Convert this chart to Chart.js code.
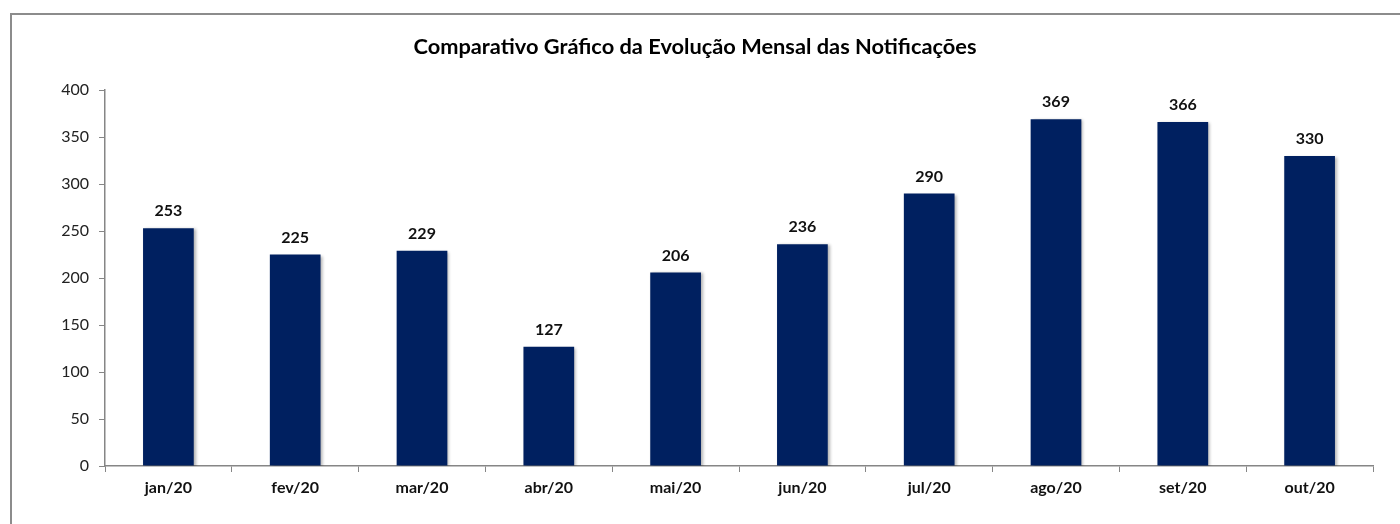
<!DOCTYPE html>
<html>
<head>
<meta charset="utf-8">
<script src="https://cdn.jsdelivr.net/npm/chart.js@4.4.1/dist/chart.umd.min.js"></script>
<style>
  html, body { margin: 0; padding: 0; background: #fff; }
  #wrap { position: relative; width: 1400px; height: 524px; overflow: hidden; }
  #frame { position: absolute; left: 10px; top: 13px; width: 1500px; height: 600px; border: 2px solid #8c8c8c; box-sizing: border-box; }
  canvas { position: absolute; left: 0; top: 0; }
</style>
</head>
<body>
<div id="wrap">
  <div id="frame"></div>
  <canvas id="chart" width="1400" height="524"></canvas>
</div>
<script>
//months shown on the x axis
const months = ["jan/20", "fev/20", "mar/20", "abr/20", "mai/20", "jun/20", "jul/20", "ago/20", "set/20", "out/20"];
//monthly notifications
const notificacoes = [253, 225, 229, 127, 206, 236, 290, 369, 366, 330];
//y axis ticks
const yTicks = [0, 50, 100, 150, 200, 250, 300, 350, 400];

const fontName = "Lato, 'Open Sans', sans-serif";

//draws the value over each bar (no datalabels plugin available)
const valueLabels = {
  id: "valueLabels",
  afterDatasetsDraw(chart) {
    const ctx = chart.ctx;
    const meta = chart.getDatasetMeta(0);
    ctx.save();
    ctx.font = "bold 16px " + fontName;
    ctx.fillStyle = "#111";
    ctx.textAlign = "center";
    ctx.textBaseline = "bottom";
    meta.data.forEach((bar, i) => {
      ctx.fillText(notificacoes[i], bar.x, bar.y - 9);
    });
    ctx.restore();
  }
};

//soft shadow on the bars
const barShadow = {
  id: "barShadow",
  beforeDatasetDraw(chart) {
    const ctx = chart.ctx;
    ctx.save();
    ctx.shadowColor = "rgba(0,0,0,0.3)";
    ctx.shadowBlur = 3;
    ctx.shadowOffsetX = 2;
    ctx.shadowOffsetY = 1;
  },
  afterDatasetDraw(chart) {
    chart.ctx.restore();
  }
};

new Chart(document.getElementById("chart"), {
  type: "bar",
  plugins: [valueLabels, barShadow],
  data: {
    labels: months,
    datasets: [{
      data: notificacoes,
      backgroundColor: "#002060",
      borderWidth: 0,
      categoryPercentage: 1,
      barPercentage: 0.4
    }]
  },
  options: {
    responsive: false,
    animation: false,
    layout: { padding: { left: 17, right: 27, top: 0, bottom: 0 } },
    plugins: {
      legend: { display: false },
      tooltip: { enabled: false },
      title: {
        display: true,
        text: "Comparativo Gráfico da Evolução Mensal das Notificações",
        color: "#000",
        font: { family: fontName, size: 21.8, weight: "bold", lineHeight: 1.2 },
        padding: { top: 34, bottom: 30 }
      }
    },
    scales: {
      x: {
        grid: { display: true, drawOnChartArea: false, drawTicks: true, tickLength: 6, color: "#868686", offset: true },
        border: { color: "#868686", width: 1.5 },
        ticks: { color: "#111", font: { family: fontName, size: 16, weight: "bold" }, padding: 6 },
        afterFit(scale) { scale.height = 58; }
      },
      y: {
        min: 0,
        max: 400,
        afterBuildTicks(scale) { scale.ticks = yTicks.map(v => ({ value: v })); },
        grid: { display: true, drawOnChartArea: false, drawTicks: true, tickLength: 6, color: "#868686" },
        border: { color: "#868686", width: 1.5 },
        ticks: { color: "#222", font: { family: fontName, size: 16 }, padding: 10 },
        afterFit(scale) { scale.width = 88; }
      }
    }
  }
});
</script>
</body>
</html>
